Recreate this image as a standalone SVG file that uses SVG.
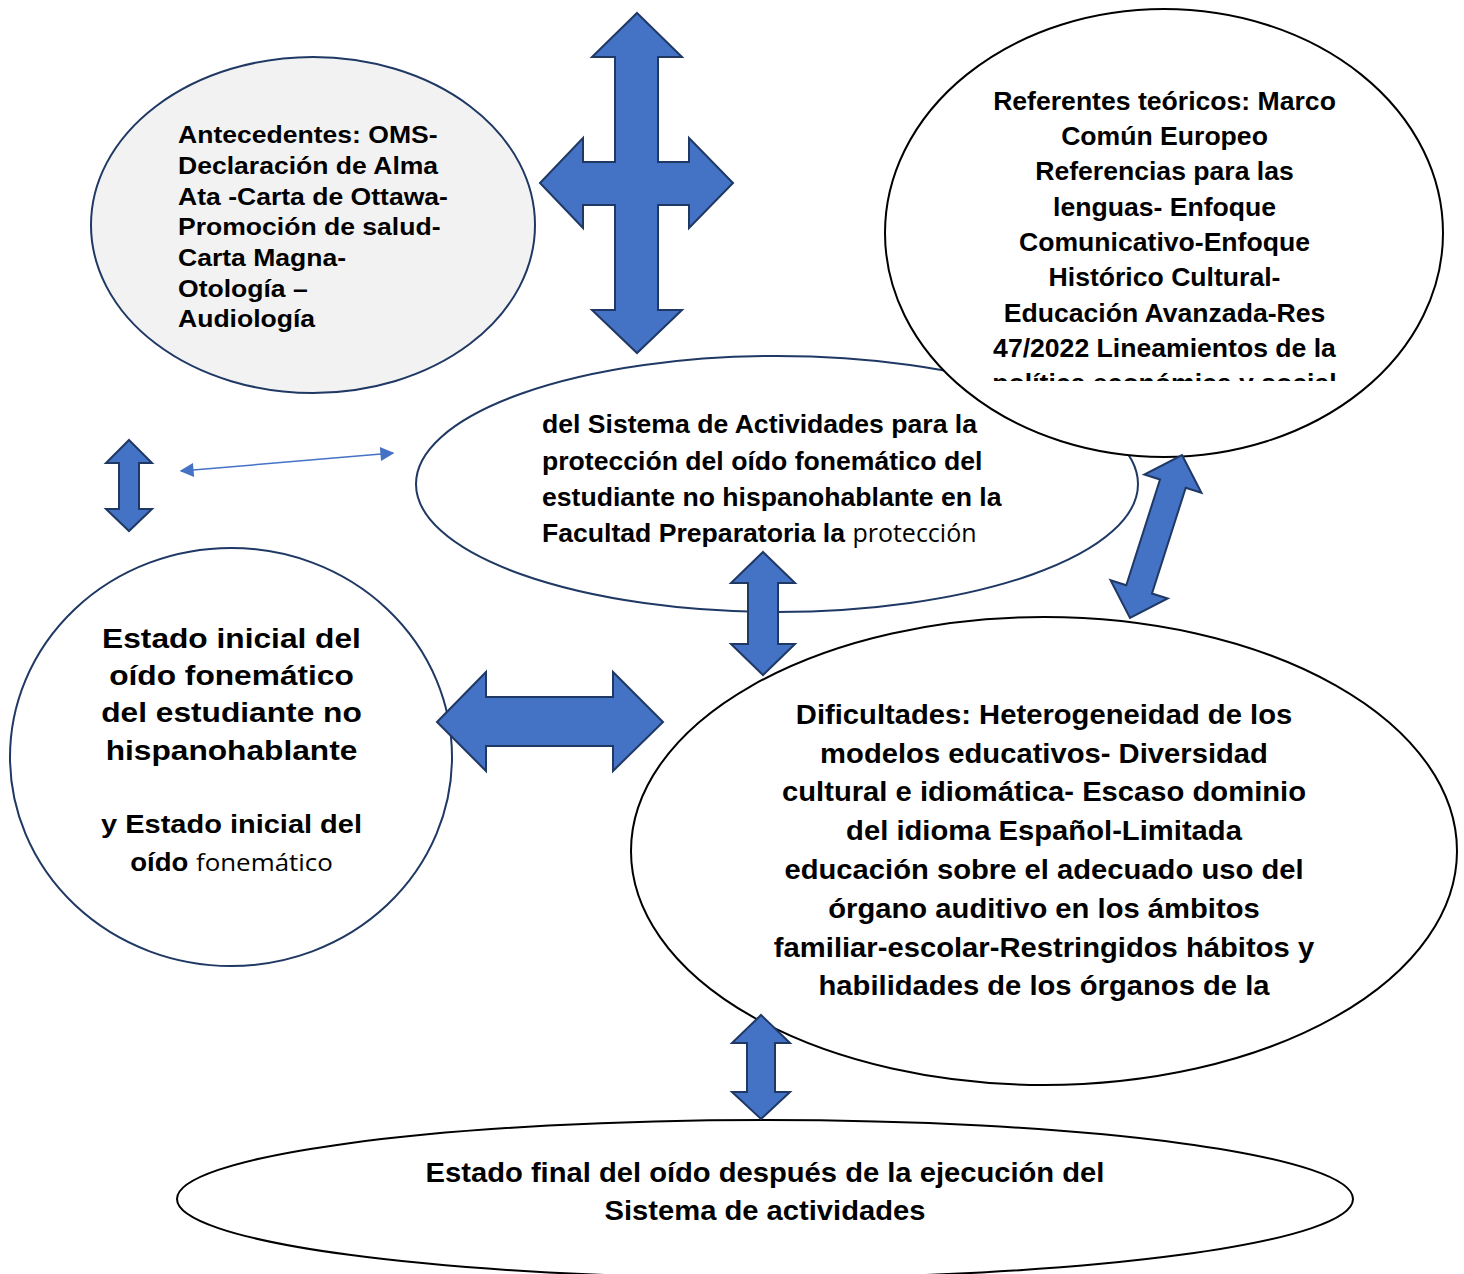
<svg xmlns="http://www.w3.org/2000/svg" width="1464" height="1274" viewBox="0 0 1464 1274">
<style>
.b{font-family:"Liberation Sans",Arial,sans-serif;font-weight:bold;fill:#000}
.r{font-family:"Open Sans","Liberation Sans",sans-serif;font-weight:normal;fill:#000}
.navy{fill:#fff;stroke:#1f3864;stroke-width:2}
.blk{fill:#fff;stroke:#000;stroke-width:2}
.arr{fill:#4472c4;stroke:#1f3864;stroke-width:2;stroke-linejoin:miter}
.thin{stroke:#4472c4;stroke-width:1.5;fill:none}
</style>
<defs>
<marker id="ah" viewBox="0 0 10 10" refX="9" refY="5" markerWidth="15" markerHeight="14" markerUnits="userSpaceOnUse" orient="auto-start-reverse">
<path d="M0,0 L10,5 L0,10 Z" fill="#4472c4"/>
</marker>
<clipPath id="clipRT"><rect x="880" y="0" width="580" height="381"/></clipPath>
</defs>

<g id="node-antecedentes">
<ellipse cx="313" cy="225" rx="222" ry="168" fill="#f2f2f2" stroke="#1f3864" stroke-width="2"/>
<g transform="translate(178,0) scale(1.13,1)" class="b" font-size="23.5">
<text x="0" y="143">Antecedentes: OMS-</text>
<text x="0" y="174">Declaración de Alma</text>
<text x="0" y="205">Ata -Carta de Ottawa-</text>
<text x="0" y="235">Promoción de salud-</text>
<text x="0" y="266">Carta Magna-</text>
<text x="0" y="297">Otología –</text>
<text x="0" y="327">Audiología</text>
</g>
</g>

<g id="node-sistema">
<ellipse class="navy" cx="777" cy="484" rx="361" ry="128"/>
<g class="b" font-size="26.6">
<text x="542" y="433">del Sistema de Actividades para la</text>
<text x="542" y="470">protección del oído fonemático del</text>
<text x="542" y="506">estudiante no hispanohablante en la</text>
<text x="542" y="542">Facultad Preparatoria la <tspan class="r" font-size="25">protección</tspan></text>
</g>
</g>

<g id="node-referentes">
<ellipse class="blk" cx="1164" cy="233" rx="279" ry="224"/>
<g clip-path="url(#clipRT)">
<g transform="translate(1164.5,0) scale(1.064,1)" class="b" font-size="25" text-anchor="middle">
<text x="0" y="110">Referentes teóricos: Marco</text>
<text x="0" y="145">Común Europeo</text>
<text x="0" y="180">Referencias para las</text>
<text x="0" y="216">lenguas- Enfoque</text>
<text x="0" y="251">Comunicativo-Enfoque</text>
<text x="0" y="286">Histórico Cultural-</text>
<text x="0" y="322">Educación Avanzada-Res</text>
<text x="0" y="357">47/2022 Lineamientos de la</text>
<text x="0" y="392">política económica y social</text>
</g>
</g>
</g>

<g id="node-estado-inicial">
<ellipse class="navy" cx="231" cy="757" rx="221" ry="209"/>
<g transform="translate(231.5,0) scale(1.112,1)" class="b" font-size="28.5" text-anchor="middle">
<text x="0" y="648">Estado inicial del</text>
<text x="0" y="685">oído fonemático</text>
<text x="0" y="722">del estudiante no</text>
<text x="0" y="760">hispanohablante</text>
</g>
<g transform="translate(231.5,0) scale(1.137,1)" class="b" font-size="25.5" text-anchor="middle">
<text x="0" y="833">y Estado inicial del</text>
</g>
<g transform="translate(231.5,0) scale(1.08,1)" font-size="25.5" text-anchor="middle">
<text x="0" y="871" class="b">oído <tspan class="r" font-size="24">fonemático</tspan></text>
</g>
</g>

<g id="node-dificultades">
<ellipse class="blk" cx="1044" cy="851" rx="413" ry="234"/>
<g transform="translate(1044,0) scale(1.058,1)" class="b" font-size="27.6" text-anchor="middle">
<text x="0" y="724">Dificultades: Heterogeneidad de los</text>
<text x="0" y="763">modelos educativos- Diversidad</text>
<text x="0" y="801">cultural e idiomática- Escaso dominio</text>
<text x="0" y="840">del idioma Español-Limitada</text>
<text x="0" y="879">educación sobre el adecuado uso del</text>
<text x="0" y="918">órgano auditivo en los ámbitos</text>
<text x="0" y="957">familiar-escolar-Restringidos hábitos y</text>
<text x="0" y="995">habilidades de los órganos de la</text>
</g>
</g>

<g id="node-estado-final">
<ellipse class="blk" cx="765" cy="1199" rx="588" ry="79"/>
<g transform="translate(765,0) scale(1.08,1)" class="b" font-size="27" text-anchor="middle">
<text x="0" y="1182">Estado final del oído después de la ejecución del</text>
<text x="0" y="1220">Sistema de actividades</text>
</g>
</g>

<g id="connectors">
<path class="arr" d="M637,13 L682,57 L658,57 L658,162 L689,162 L689,138 L733,183 L689,228 L689,205 L658,205 L658,310 L682,310 L637,353 L592,310 L615,310 L615,205 L583,205 L583,228 L540,183 L583,138 L583,162 L615,162 L615,57 L592,57 Z"/>
<path class="arr" d="M129,440 L152,463 L139,463 L139,509 L152,509 L129,531 L106,509 L119,509 L119,463 L106,463 Z"/>
<line class="thin" x1="181" y1="471" x2="393" y2="453" marker-start="url(#ah)" marker-end="url(#ah)"/>
<path class="arr" d="M763,552 L795,583 L778,583 L778,644 L795,644 L763,675 L731,644 L748,644 L748,583 L731,583 Z"/>
<path class="arr" d="M437,722 L486,672 L486,697 L613,697 L613,672 L663,722 L613,771 L613,746 L486,746 L486,771 Z"/>
<path class="arr" transform="translate(1156,536.5) rotate(17.7)" d="M0,-85.5 L30,-55.5 L13.5,-55.5 L13.5,55.5 L30,55.5 L0,85.5 L-30,55.5 L-13.5,55.5 L-13.5,-55.5 L-30,-55.5 Z"/>
<path class="arr" d="M761,1015 L790,1043 L775,1043 L775,1092 L790,1092 L761,1119 L732,1092 L747,1092 L747,1043 L732,1043 Z"/>
</g>
</svg>
